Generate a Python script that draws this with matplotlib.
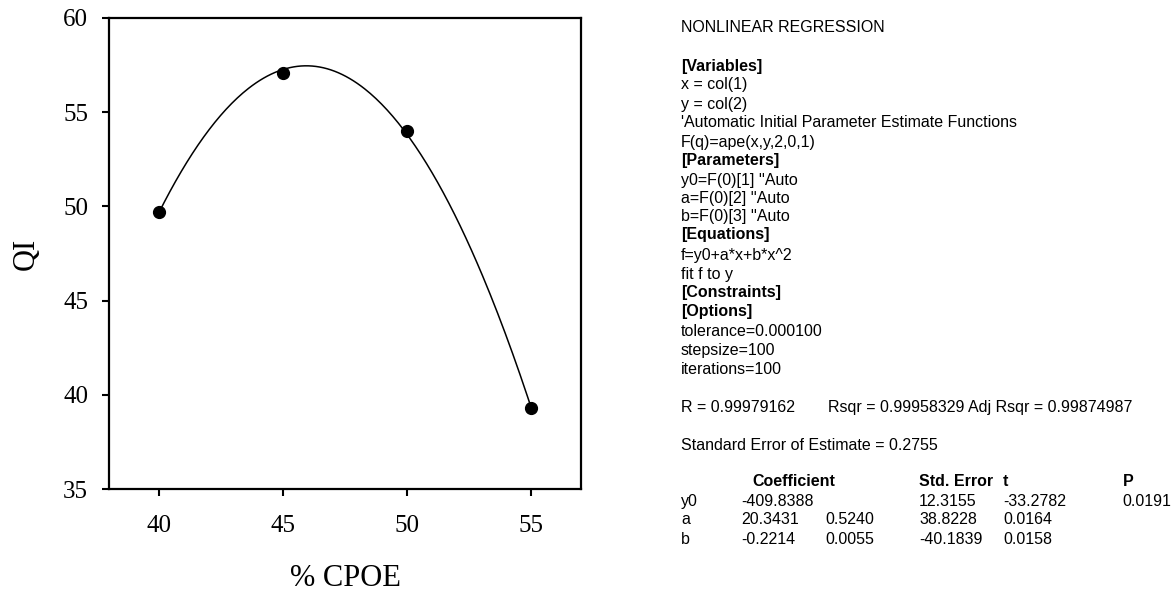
import numpy as np
import matplotlib.pyplot as plt

# measured QI against % CPOE
cpoe = [40, 45, 50, 55]
qi = [49.7, 57.1, 54.0, 39.3]

# fitted quadratic f = y0 + a*x + b*x^2
y0 = -409.8388
a = 20.3431
b = -0.2214

x_ticks = [40, 45, 50, 55]
y_ticks = [35, 40, 45, 50, 55, 60]

# regression report, one entry per line: (text, bold)
report_lines = [
    ('NONLINEAR REGRESSION', False),
    ('[Variables]', True),
    ('x = col(1)', False),
    ('y = col(2)', False),
    ("'Automatic Initial Parameter Estimate Functions", False),
    ('F(q)=ape(x,y,2,0,1)', False),
    ('[Parameters]', True),
    ("y0=F(0)[1] ''Auto", False),
    ("a=F(0)[2] ''Auto", False),
    ("b=F(0)[3] ''Auto", False),
    ('[Equations]', True),
    ('f=y0+a*x+b*x^2', False),
    ('fit f to y', False),
    ('[Constraints]', True),
    ('[Options]', True),
    ('tolerance=0.000100', False),
    ('stepsize=100', False),
    ('iterations=100', False),
]
r_text = 'R = 0.99979162'
rsqr_text = 'Rsqr = 0.99958329 Adj Rsqr = 0.99874987'
see_text = 'Standard Error of Estimate = 0.2755'

table_header = ['', 'Coefficient', '', 'Std. Error', 't', 'P']
table_rows = [
    ['y0', '-409.8388', '', '12.3155', '-33.2782', '0.0191'],
    ['a', '20.3431', '0.5240', '38.8228', '0.0164', ''],
    ['b', '-0.2214', '0.0055', '-40.1839', '0.0158', ''],
]

W, H = 1173, 594
fig = plt.figure(figsize=(W / 100, H / 100), dpi=100)


def px(x, y):
    return x / W, 1 - y / H


ax = fig.add_axes([109 / W, 1 - 489 / H, 472 / W, 471 / H])

xs = np.linspace(cpoe[0], cpoe[-1], 200)
ax.plot(xs, y0 + a * xs + b * xs ** 2, color='black', lw=1.1)
ax.plot(cpoe, qi, 'o', color='black', ms=8.5)

ax.set_xlim(38, 57)
ax.set_ylim(35, 60)
ax.set_xticks(x_ticks)
ax.set_yticks(y_ticks)

serif = 'Liberation Serif'
for lab in ax.get_xticklabels() + ax.get_yticklabels():
    lab.set_fontfamily(serif)
    lab.set_fontsize(18)
ax.tick_params(direction='out', length=5, width=1.5, pad=10)
ax.tick_params(axis='x', pad=14)
for sp in ax.spines.values():
    sp.set_linewidth(1.6)

ax.set_xlabel('% CPOE', fontfamily=serif, fontsize=22, labelpad=19)
ax.set_ylabel('QI', fontfamily=serif, fontsize=22, labelpad=16)

sans = 'Liberation Sans'
fs = 11.5
line_y = [28, 66.7, 85, 105, 122.7, 142.7, 160.7, 180.7, 198.7, 216.7,
          234.7, 255.3, 274.7, 292.3, 311.7, 331.7, 350.7, 370]
for (txt, bold), yy in zip(report_lines, line_y):
    fig.text(*px(681, yy), txt, fontfamily=sans, fontsize=fs, va='center',
             fontweight='bold' if bold else 'normal')

fig.text(*px(681, 407.3), r_text, fontfamily=sans, fontsize=fs, va='center')
fig.text(*px(828, 407.3), rsqr_text, fontfamily=sans, fontsize=fs, va='center')
fig.text(*px(681, 445.7), see_text, fontfamily=sans, fontsize=fs, va='center')

col_x = [681, 741, 825, 919, 1003, 1122]
header_x = [681, 752, 825, 919, 1003, 1123]
for txt, xx in zip(table_header, header_x):
    if txt:
        fig.text(*px(xx, 481.7), txt, fontfamily=sans, fontsize=fs,
                 va='center', fontweight='bold')
for row, yy in zip(table_rows, [501.7, 519.3, 539]):
    for txt, xx in zip(row, col_x):
        if txt:
            fig.text(*px(xx, yy), txt, fontfamily=sans, fontsize=fs, va='center')

fig.savefig('out.png', dpi=100)
